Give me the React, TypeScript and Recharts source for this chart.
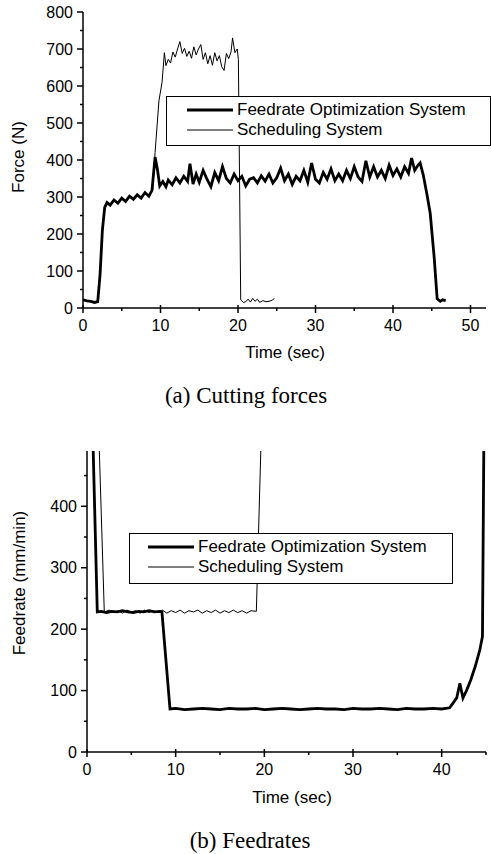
import React from 'react';
import { LineChart, Line, XAxis, YAxis, Legend } from 'recharts';

// (a) cutting forces, [time s, force N]
const optForce: [number, number][] = [
  [0, 22], [0.5, 19], [1, 18], [1.5, 15], [1.9, 17], [2.2, 90], [2.5, 210], [2.8, 272],
  [3.1, 285], [3.5, 278], [4, 292], [4.5, 283], [5, 297], [5.5, 288], [6, 302], [6.5, 294],
  [7, 306], [7.5, 297], [8, 312], [8.5, 302], [8.9, 318], [9.3, 408], [9.6, 375], [9.9, 330],
  [10.3, 342], [10.7, 328], [11, 346], [11.5, 333], [12, 352], [12.5, 338], [13, 356], [13.5, 342],
  [13.8, 390], [14.2, 335], [14.6, 362], [15, 340], [15.5, 372], [16, 348], [16.5, 328], [17, 366],
  [17.5, 344], [18, 382], [18.5, 350], [19, 338], [19.5, 362], [20, 344], [20.5, 356], [21, 330],
  [21.5, 348], [22, 352], [22.5, 338], [23, 357], [23.5, 343], [24, 362], [24.5, 338], [25, 352],
  [25.5, 378], [26, 344], [26.5, 362], [27, 334], [27.5, 356], [28, 344], [28.5, 372], [29, 340],
  [29.5, 392], [30, 348], [30.5, 338], [31, 366], [31.5, 348], [32, 376], [32.5, 344], [33, 362],
  [33.5, 344], [34, 372], [34.5, 350], [35, 382], [35.5, 354], [36, 342], [36.5, 398], [37, 354],
  [37.5, 382], [38, 354], [38.5, 372], [39, 350], [39.5, 386], [40, 358], [40.5, 376], [41, 354],
  [41.5, 382], [42, 364], [42.4, 405], [42.8, 372], [43.2, 385], [43.5, 392], [43.9, 360],
  [44.4, 305], [44.8, 256], [45.3, 140], [45.7, 25], [46.1, 18], [46.4, 22], [46.8, 20],
];

const schedForce: [number, number][] = [
  [0, 22], [0.5, 19], [1, 18], [1.5, 15], [1.9, 17], [2.2, 90], [2.5, 210], [2.8, 272],
  [3.1, 285], [3.5, 280], [4, 290], [4.5, 285], [5, 295], [5.5, 290], [6, 300], [6.5, 296],
  [7, 304], [7.5, 300], [8, 308], [8.5, 304], [9, 320], [9.3, 420], [9.8, 560], [10.2, 610],
  [10.5, 690], [10.7, 655], [11, 672], [11.3, 662], [11.6, 692], [11.9, 678], [12.2, 700],
  [12.5, 720], [12.8, 688], [13.1, 702], [13.4, 680], [13.7, 694], [14, 675], [14.3, 706],
  [14.6, 684], [14.9, 700], [15.2, 712], [15.5, 672], [15.8, 690], [16.1, 660], [16.4, 682],
  [16.7, 656], [17, 690], [17.3, 668], [17.6, 682], [17.9, 652], [18.2, 642], [18.5, 688],
  [18.8, 674], [19.1, 692], [19.3, 730], [19.6, 690], [19.9, 700], [20.05, 672], [20.35, 22],
  [20.7, 15], [21, 17], [21.3, 24], [21.6, 16], [21.9, 26], [22.2, 18], [22.5, 24], [22.8, 15],
  [23.2, 20], [23.6, 17], [24, 18], [24.4, 21], [24.7, 26],
];

// (b) feedrates, [time s, feedrate mm/min]
const optFeed: [number, number][] = [
  [0.7, 490], [1.16, 228], [1.6, 229], [2.2, 227], [2.8, 229], [3.4, 228], [4, 230], [4.6, 228],
  [5.2, 227], [5.8, 229], [6.4, 228], [7, 230], [7.6, 228], [8.2, 229], [8.45, 228], [9.36, 70],
  [10, 71], [11, 69], [12, 70], [13, 71], [14, 70], [15, 69], [16, 71], [17, 70], [18, 70],
  [19, 71], [20, 69], [21, 70], [22, 71], [23, 70], [24, 69], [25, 70], [26, 71], [27, 70],
  [28, 70], [29, 69], [30, 71], [31, 70], [32, 70], [33, 71], [34, 70], [35, 69], [36, 71],
  [37, 70], [38, 70], [39, 71], [40, 70], [40.9, 72], [41.3, 80], [41.7, 88], [42.05, 112],
  [42.4, 88], [42.8, 100], [43.3, 118], [43.8, 140], [44.3, 166], [44.6, 188], [44.75, 490],
];

const schedFeed: [number, number][] = [
  [1.39, 490], [1.95, 228], [2.5, 231], [3, 227], [3.5, 230], [4, 226], [4.5, 231], [5, 228],
  [5.5, 230], [6, 226], [6.5, 231], [7, 227], [7.5, 230], [8, 227], [8.5, 231], [9, 226],
  [9.5, 230], [10, 227], [10.5, 231], [11, 226], [11.5, 230], [12, 228], [12.5, 231], [13, 226],
  [13.5, 230], [14, 227], [14.5, 231], [15, 226], [15.5, 230], [16, 227], [16.5, 231], [17, 227],
  [17.5, 230], [18, 226], [18.5, 230], [19.1, 229], [19.6, 490],
];

const seriesNames = ['Feedrate Optimization System', 'Scheduling System'];

const forceTicks = [0, 50, 100, 150, 200, 250, 300, 350, 400, 450, 500, 550, 600, 650, 700, 750, 800];
const timeTicksA = [0, 5, 10, 15, 20, 25, 30, 35, 40, 45, 50];
const feedTicks = [0, 50, 100, 150, 200, 250, 300, 350, 400, 450];
const timeTicksB = [0, 5, 10, 15, 20, 25, 30, 35, 40, 45];

const toPoints = (rows: [number, number][]) => rows.map(([t, v]) => ({ t, v }));

const SANS = '"Liberation Sans", Arial, Helvetica, sans-serif';
const SERIF = '"Liberation Serif", "Times New Roman", serif';

const yTick = (step: number) => (props: any) => {
  const { x, y, payload } = props;
  const major = payload.value % step === 0;
  return (
    <g>
      <line x1={x - (major ? 6 : 3)} x2={x} y1={y} y2={y} stroke="#000" strokeWidth={1.5} />
      {major && (
        <text x={x - 10} y={y} textAnchor="end" dominantBaseline="central" fontFamily={SANS} fontSize={16} fill="#000">
          {payload.value}
        </text>
      )}
    </g>
  );
};

const xTick = (step: number) => (props: any) => {
  const { x, y, payload } = props;
  const major = payload.value % step === 0;
  return (
    <g>
      <line x1={x} x2={x} y1={y - (major ? 3 : 0)} y2={y + (major ? 5 : 3)} stroke="#000" strokeWidth={1.5} />
      {major && (
        <text x={x} y={y + 17} textAnchor="middle" dominantBaseline="central" fontFamily={SANS} fontSize={16} fill="#000">
          {payload.value}
        </text>
      )}
    </g>
  );
};

const LegendBox = ({ inset }: { inset: number }) => (
  <div style={{ width: '100%', height: '100%', boxSizing: 'border-box', border: '1.5px solid #000', background: '#fff', position: 'relative' }}>
    {seriesNames.map((name, i) => (
      <div key={name} style={{ position: 'absolute', left: 0, top: i === 0 ? 3 : 23, height: 20, display: 'flex', alignItems: 'center' }}>
        <svg width={inset + 50} height={20} style={{ display: 'block' }}>
          <line x1={inset} x2={inset + 46} y1={10} y2={10} stroke="#000" strokeWidth={i === 0 ? 3 : 1} />
        </svg>
        <span style={{ fontFamily: SANS, fontSize: 17, lineHeight: '20px', color: '#000', whiteSpace: 'nowrap' }}>{name}</span>
      </div>
    ))}
  </div>
);

const Title = ({ text, cx, cy, rotate = false, serif = false, size = 17 }: any) => (
  <div
    style={{
      position: 'absolute', left: cx, top: cy, whiteSpace: 'nowrap',
      transform: `translate(-50%, -50%)${rotate ? ' rotate(-90deg)' : ''}`,
      fontFamily: serif ? SERIF : SANS, fontSize: size, color: '#000', lineHeight: 1,
    }}
  >
    {text}
  </div>
);

const axisLine = { stroke: '#000', strokeWidth: 1.5 };

export default function App() {
  return (
    <div style={{ position: 'absolute', left: 0, top: 0, width: 491, height: 854, background: '#fff', overflow: 'hidden' }}>
      <div style={{ position: 'absolute', left: 0, top: 0 }}>
        <LineChart width={491} height={370} margin={{ top: 12, right: 5, left: 0, bottom: 0 }}>
          <XAxis dataKey="t" type="number" domain={[0, 52]} ticks={timeTicksA} interval={0} height={62}
            axisLine={axisLine} tickLine={false} tickSize={0} tickMargin={0} tick={xTick(10)} allowDataOverflow />
          <YAxis type="number" domain={[0, 800]} ticks={forceTicks} interval={0} width={83}
            axisLine={axisLine} tickLine={false} tickSize={0} tickMargin={0} tick={yTick(100)} allowDataOverflow />
          <Line data={toPoints(optForce)} dataKey="v" name={seriesNames[0]} type="linear" stroke="#000"
            strokeWidth={2.8} dot={false} isAnimationActive={false} />
          <Line data={toPoints(schedForce)} dataKey="v" name={seriesNames[1]} type="linear" stroke="#000"
            strokeWidth={1} dot={false} isAnimationActive={false} />
          <Legend layout="horizontal" verticalAlign="middle" align="center"
            wrapperStyle={{ left: 166, top: 96, width: 325, height: 50 }} content={() => <LegendBox inset={20} />} />
        </LineChart>
      </div>
      <div style={{ position: 'absolute', left: 0, top: 430 }}>
        <LineChart width={491} height={380} margin={{ top: 21, right: 5, left: 0, bottom: 0 }}>
          <XAxis dataKey="t" type="number" domain={[0, 45]} ticks={timeTicksB} interval={0} height={58}
            axisLine={axisLine} tickLine={false} tickSize={0} tickMargin={0} tick={xTick(10)} allowDataOverflow />
          <YAxis type="number" domain={[0, 490]} ticks={feedTicks} interval={0} width={87}
            axisLine={axisLine} tickLine={false} tickSize={0} tickMargin={0} tick={yTick(100)} allowDataOverflow />
          <Line data={toPoints(optFeed)} dataKey="v" name={seriesNames[0]} type="linear" stroke="#000"
            strokeWidth={2.8} dot={false} isAnimationActive={false} />
          <Line data={toPoints(schedFeed)} dataKey="v" name={seriesNames[1]} type="linear" stroke="#000"
            strokeWidth={1} dot={false} isAnimationActive={false} />
          <Legend layout="horizontal" verticalAlign="middle" align="center"
            wrapperStyle={{ left: 129, top: 103, width: 324, height: 51 }} content={() => <LegendBox inset={18} />} />
        </LineChart>
      </div>
      <Title text="Force (N)" cx={18} cy={157} rotate />
      <Title text="Time (sec)" cx={285} cy={352} />
      <Title text="(a) Cutting forces" cx={246} cy={395} serif size={23} />
      <Title text="Feedrate (mm/min)" cx={19} cy={583} rotate />
      <Title text="Time (sec)" cx={292} cy={797} />
      <Title text="(b) Feedrates" cx={250} cy={840} serif size={23} />
    </div>
  );
}
